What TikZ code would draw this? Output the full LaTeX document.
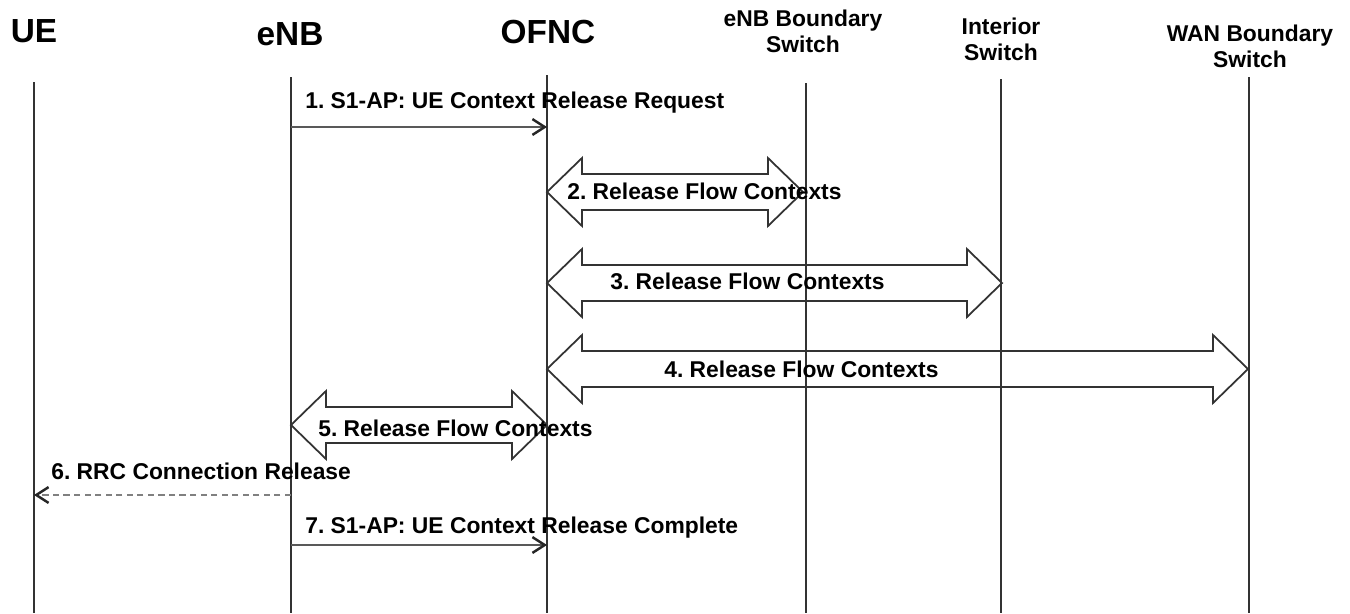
\documentclass[tikz,border=0pt]{standalone}
\usepackage{fontspec}
\setmainfont{Liberation Sans}
\usetikzlibrary{arrows.meta}
\frenchspacing
\tikzset{
  head/.style={font=\bfseries\fontsize{19}{22}\selectfont, inner sep=0pt, anchor=base},
  switchhead/.style={font=\bfseries\fontsize{13}{15}\selectfont, inner sep=0pt, anchor=south, align=center},
  life/.style={draw=black!80, line width=0.9pt},
  msg/.style={draw=black!65, line width=1.5pt, -{Straight Barb[length=7pt,width=9pt,line width=1.4pt,color=black!85]}},
  msgdash/.style={draw=black!50, line width=1.3pt, dash pattern=on 3.5pt off 2.5pt, -{Straight Barb[length=7pt,width=9pt,line width=1.4pt,color=black!85]}},
  label/.style={font=\bfseries\fontsize{13}{15}\selectfont, inner sep=0pt, anchor=base west},
  blockarrow/.style={draw=black!80, line width=1pt, line join=miter}
}
\begin{document}
\begin{tikzpicture}[x=0.02cm, y=-0.02cm]
    \useasboundingbox (0,0) rectangle (1350,613);
    % lifeline heads
    \node[head] (ue) at (34, 42) {UE};
    \node[head] (enb) at (290, 45) {eNB};
    \node[head] (ofnc) at (548, 43) {OFNC};
    \node[switchhead] (ebs) at (803, 53) {eNB Boundary\\Switch};
    \node[switchhead] (isw) at (1001, 61) {Interior\\Switch};
    \node[switchhead] (wbs) at (1250, 68) {WAN Boundary\\Switch};
    % lifelines
    \def\bot{613}
    \coordinate (ueT) at (34, 82);     \coordinate (ueB) at (34, \bot);
    \coordinate (enbT) at (291, 77);   \coordinate (enbB) at (291, \bot);
    \coordinate (ofncT) at (547, 75);  \coordinate (ofncB) at (547, \bot);
    \coordinate (ebsT) at (806, 83);   \coordinate (ebsB) at (806, \bot);
    \coordinate (iswT) at (1001, 79);  \coordinate (iswB) at (1001, \bot);
    \coordinate (wbsT) at (1249, 77);  \coordinate (wbsB) at (1249, \bot);
    \draw[life] (ueT) -- (ueB);
    \draw[life] (enbT) -- (enbB);
    \draw[life] (ofncT) -- (ofncB);
    \draw[life] (ebsT) -- (ebsB);
    \draw[life] (iswT) -- (iswB);
    \draw[life] (wbsT) -- (wbsB);
    % 1. request
    \coordinate (enb1) at (291, 127);
    \coordinate (ofnc1) at (547, 127);
    \draw[msg] (enb1) -- (ofnc1);
    \node[label] (l1) at (305, 108) {1. S1-AP: UE Context Release Request};
    % block arrows: head length, head half height, shaft half height
    \def\hl{35}
    \def\hh{34}
    \def\sh{18}
    % 2. eNB boundary switch
    \def\ya{192}
    \draw[blockarrow] (547,\ya) -- (547+\hl,\ya-\hh) -- (547+\hl,\ya-\sh) -- (803-\hl,\ya-\sh) -- (803-\hl,\ya-\hh)
        -- (803,\ya) -- (803-\hl,\ya+\hh) -- (803-\hl,\ya+\sh) -- (547+\hl,\ya+\sh) -- (547+\hl,\ya+\hh) -- cycle;
    \node[label] (l2) at (567, 199) {2. Release Flow Contexts};
    % 3. interior switch
    \def\yb{283}
    \draw[blockarrow] (547,\yb) -- (547+\hl,\yb-\hh) -- (547+\hl,\yb-\sh) -- (1002-\hl,\yb-\sh) -- (1002-\hl,\yb-\hh)
        -- (1002,\yb) -- (1002-\hl,\yb+\hh) -- (1002-\hl,\yb+\sh) -- (547+\hl,\yb+\sh) -- (547+\hl,\yb+\hh) -- cycle;
    \node[label] (l3) at (610, 289) {3. Release Flow Contexts};
    % 4. WAN boundary switch
    \def\yc{369}
    \draw[blockarrow] (547,\yc) -- (547+\hl,\yc-\hh) -- (547+\hl,\yc-\sh) -- (1248-\hl,\yc-\sh) -- (1248-\hl,\yc-\hh)
        -- (1248,\yc) -- (1248-\hl,\yc+\hh) -- (1248-\hl,\yc+\sh) -- (547+\hl,\yc+\sh) -- (547+\hl,\yc+\hh) -- cycle;
    \node[label] (l4) at (664, 377) {4. Release Flow Contexts};
    % 5. eNB
    \def\yd{425}
    \draw[blockarrow] (291,\yd) -- (291+\hl,\yd-\hh) -- (291+\hl,\yd-\sh) -- (547-\hl,\yd-\sh) -- (547-\hl,\yd-\hh)
        -- (547,\yd) -- (547-\hl,\yd+\hh) -- (547-\hl,\yd+\sh) -- (291+\hl,\yd+\sh) -- (291+\hl,\yd+\hh) -- cycle;
    \node[label] (l5) at (318, 436) {5. Release Flow Contexts};
    % 6. RRC release
    \coordinate (enb6) at (291, 495);
    \coordinate (ue6) at (34, 495);
    \draw[msgdash] (enb6) -- (ue6);
    \node[label] (l6) at (51, 479) {6. RRC Connection Release};
    % 7. complete
    \coordinate (enb7) at (291, 545);
    \coordinate (ofnc7) at (547, 545);
    \draw[msg] (enb7) -- (ofnc7);
    \node[label] (l7) at (305, 533) {7. S1-AP: UE Context Release Complete};
\end{tikzpicture}
\end{document}
